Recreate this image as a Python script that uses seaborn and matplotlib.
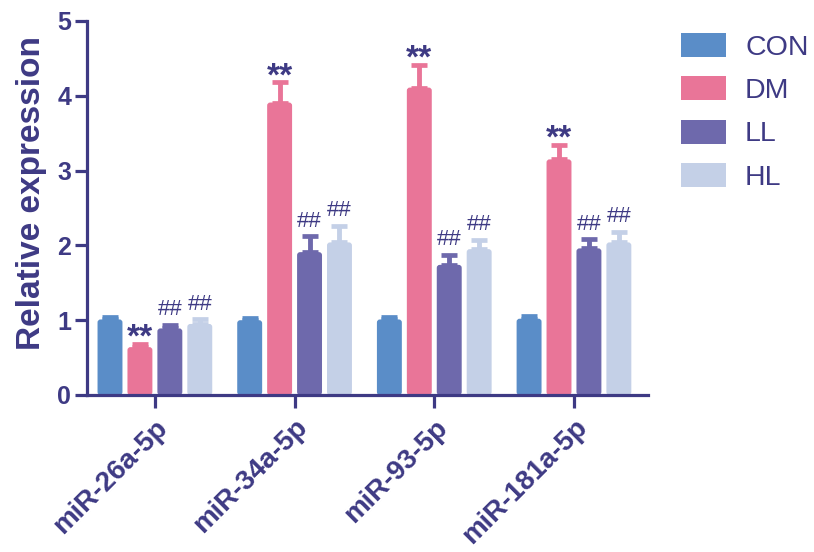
import matplotlib
matplotlib.use("Agg")
import matplotlib.pyplot as plt
from matplotlib.patches import FancyBboxPatch
import seaborn as sns
import pandas as pd

# --- data -------------------------------------------------------------
categories = ["miR-26a-5p", "miR-34a-5p", "miR-93-5p", "miR-181a-5p"]
groups = ["CON", "DM", "LL", "HL"]

con_mean = [1.01, 1.00, 1.01, 1.02]
con_err = [0.03, 0.03, 0.03, 0.04]
dm_mean = [0.64, 3.91, 4.11, 3.15]
dm_err = [0.04, 0.27, 0.30, 0.19]
ll_mean = [0.89, 1.91, 1.74, 1.96]
ll_err = [0.05, 0.21, 0.13, 0.12]
hl_mean = [0.95, 2.04, 1.95, 2.04]
hl_err = [0.06, 0.22, 0.12, 0.14]

con_marks = ["", "", "", ""]
dm_marks = ["**", "**", "**", "**"]
ll_marks = ["##", "##", "##", "##"]
hl_marks = ["##", "##", "##", "##"]

yticks = [0, 1, 2, 3, 4, 5]
ylabel = "Relative expression"

# --- styling ----------------------------------------------------------
palette = {"CON": "#5A8DC8", "DM": "#E97598", "LL": "#6E69AC", "HL": "#C4D0E7"}
navy = "#3E3A84"

sns.set_style("ticks")
plt.rcParams["font.family"] = ["Liberation Sans", "DejaVu Sans"]

means = {"CON": con_mean, "DM": dm_mean, "LL": ll_mean, "HL": hl_mean}
errs = {"CON": con_err, "DM": dm_err, "LL": ll_err, "HL": hl_err}
marks = {"CON": con_marks, "DM": dm_marks, "LL": ll_marks, "HL": hl_marks}

rows = []
for g in groups:
    for c, m in zip(categories, means[g]):
        rows.append({"miRNA": c, "group": g, "expr": m})
df = pd.DataFrame(rows)

W, H = 814, 552
fig = plt.figure(figsize=(W / 100, H / 100), dpi=100)
ax = fig.add_axes([87 / W, 1 - 395 / H, (648 - 87) / W, (395 - 21) / H])

sns.barplot(data=df, x="miRNA", y="expr", hue="group", hue_order=groups,
            order=categories, palette=palette, saturation=1, errorbar=None,
            width=0.857, gap=0.167, linewidth=0, ax=ax)

ax.set_ylim(0, 5)
ax.set_xlim(-0.486, 3.53)

# pixel scale of the data axes, used to round the bar corners evenly
px_x = (648 - 87) / (3.53 + 0.486)
px_y = (395 - 21) / 5.0
radius_px = 3.0

# one-sided (upper) error bars, significance marks and rounded bar tops
for g, cont in zip(groups, ax.containers):
    for bar, e, mk in zip(cont, errs[g], marks[g]):
        x0, w, h = bar.get_x(), bar.get_width(), bar.get_height()
        x = x0 + w / 2
        ax.errorbar(x, h, yerr=[[0], [e]], fmt="none", ecolor=palette[g],
                    elinewidth=3.5, capsize=6.0, capthick=3.4, zorder=1)
        rb = FancyBboxPatch((x0, 0), w, h,
                            boxstyle=f"round,pad=0,rounding_size={radius_px / px_x}",
                            mutation_aspect=px_x / px_y,
                            facecolor=bar.get_facecolor(), edgecolor="none",
                            zorder=2)
        ax.add_patch(rb)
        bar.set_visible(False)
        if mk == "**":
            ax.annotate(mk, (x, h + e), xytext=(0, -2), textcoords="offset points",
                        ha="center", va="baseline", fontsize=24,
                        fontweight="bold", color=navy)
        elif mk:
            ax.annotate(mk, (x, h + e), xytext=(0, 7), textcoords="offset points",
                        ha="center", va="baseline", fontsize=16, color=navy)

ax.set_yticks(yticks)
ax.set_xlabel("")
ax.set_ylabel(ylabel, fontsize=24, fontweight="bold", color=navy)
ax.yaxis.set_label_coords(-0.072, 0.54)

sns.despine(ax=ax)
for s in ("left", "bottom"):
    ax.spines[s].set_color(navy)
    ax.spines[s].set_linewidth(2.3)
    ax.spines[s].set_zorder(3)

ax.tick_params(axis="y", colors=navy, width=2.3, length=8.5, pad=3,
               labelsize=18)
ax.tick_params(axis="x", colors=navy, width=2.3, length=9, pad=5,
               labelsize=20)
for t in ax.get_yticklabels():
    t.set_fontweight("bold")
for t in ax.get_xticklabels():
    t.set_fontweight("bold")
    t.set_rotation(45)
    t.set_ha("right")
    t.set_va("top")
    t.set_rotation_mode("anchor")

sns.move_legend(ax, "upper left", bbox_to_anchor=(681 / W, 1 - 33 / H),
                bbox_transform=fig.transFigure, frameon=False, title=None,
                fontsize=20.5, handlelength=1.58, handleheight=0.91,
                handletextpad=0.67, labelspacing=0.55, borderpad=0,
                borderaxespad=0, labelcolor=navy)

fig.savefig("out.png", dpi=100)
